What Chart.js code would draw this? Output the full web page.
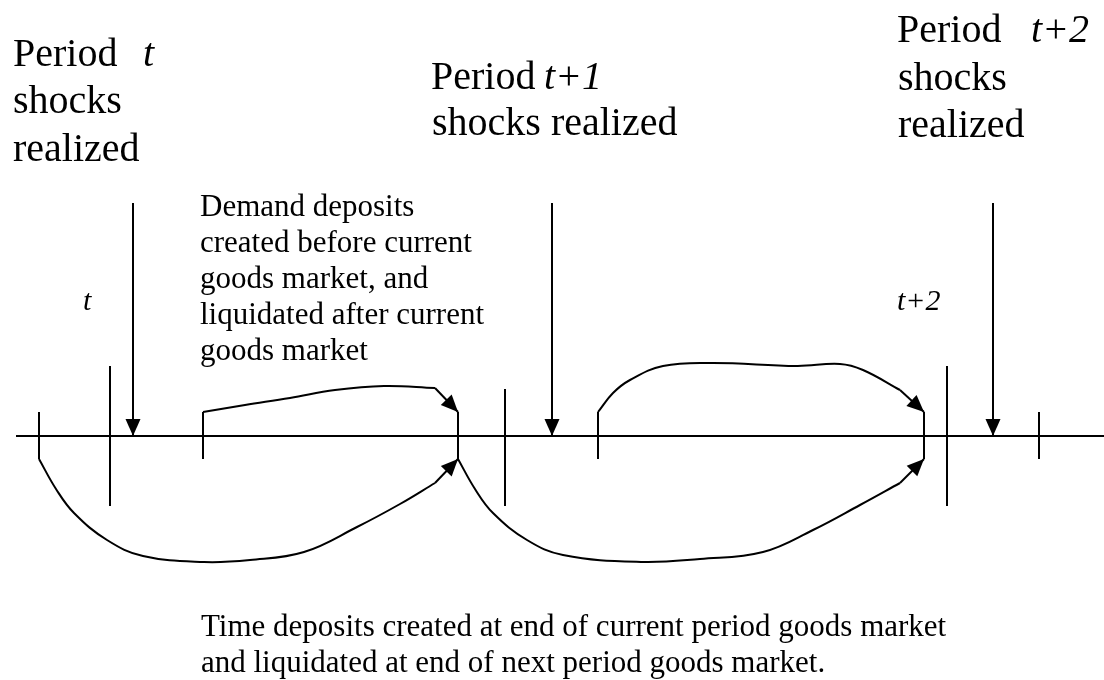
<!DOCTYPE html>
<html lang="en">
<head>
  <meta charset="UTF-8">
  <title>Timing of shocks and deposits</title>
  <script src="https://cdn.jsdelivr.net/npm/chart.js"></script>
  <style>body { margin: 0; background: #fff; }</style>
</head>
<body>
  <div style="width: 1104px; height: 680px;">
    <canvas id="timing"></canvas>
  </div>

  <script>
    // everything is in page units: x to the right, y downward (y axis reversed)
    const axisLine = [[16, 436], [1104, 436]];
    const shortTicks = [39, 203, 458, 598, 924, 1039];
    const tallTicks = [[110, 366], [505, 389], [947, 366]];
    const shockArrows = [133, 552, 993];

    // demand deposits: curve over the goods market, straight lead into the arrow tip
    const demandCurves = [
      [[203, 412], [245, 405], [290, 398], [335, 390], [384, 386], [435, 388]],
      [[598, 412], [613, 393], [630, 380], [663, 366], [713, 363], [797, 366], [840, 364], [863, 370], [900, 390]]
    ];
    const demandTips = [[458, 412], [924, 412]];

    // time deposits: curve under the axis
    const timeCurves = [
      [[39, 459], [56, 489], [74, 513], [107, 540], [143, 556], [204, 562], [250, 560], [304, 552], [357, 527], [400, 504], [435, 483]],
      [[458, 459], [475, 489], [493, 513], [527, 540], [563, 555], [641, 562], [700, 559], [763, 552], [813, 530], [860, 505], [900, 483]]
    ];
    const timeTips = [[458, 459], [924, 459]];

    const headT = ['Period  ', 't', 'shocks', 'realized'];
    const headT1 = ['Period ', 't+1', 'shocks realized'];
    const headT2 = ['Period  ', 't+2', 'shocks', 'realized'];
    const periodMarks = ['t', 't+2'];
    const demandNote = ['Demand deposits', 'created before current', 'goods market, and', 'liquidated after current', 'goods market'];
    const timeNote = ['Time deposits created at end of current period goods market', 'and liquidated at end of next period goods market.'];

    const serif = '"Liberation Serif", "Times New Roman", serif';
    const texts = [
      { t: headT[0], x: 13, y: 66, size: 40 },
      { t: headT[1], x: 143, y: 66, size: 40, italic: true },
      { t: headT[2], x: 13, y: 113, size: 40 },
      { t: headT[3], x: 13, y: 161, size: 40 },
      { t: headT1[0], x: 431, y: 89, size: 40 },
      { t: headT1[1], x: 544, y: 89, size: 40, italic: true },
      { t: headT1[2], x: 432, y: 135, size: 40 },
      { t: headT2[0], x: 897, y: 42, size: 40 },
      { t: headT2[1], x: 1031, y: 42, size: 40, italic: true },
      { t: headT2[2], x: 898, y: 90, size: 40 },
      { t: headT2[3], x: 898, y: 137, size: 40 },
      { t: periodMarks[0], x: 83, y: 310, size: 30, italic: true },
      { t: periodMarks[1], x: 897, y: 310, size: 30, italic: true }
    ];
    demandNote.forEach((s, i) => texts.push({ t: s, x: 200, y: 216 + i * 36, size: 31 }));
    timeNote.forEach((s, i) => texts.push({ t: s, x: 201, y: 636 + i * 36, size: 31 }));

    const pts = arr => arr.map(p => ({ x: p[0], y: p[1] }));
    const line = (arr, extra) => Object.assign({
      data: pts(arr),
      showLine: true,
      borderColor: '#000',
      borderWidth: 2,
      pointRadius: 0,
      tension: 0,
      fill: false
    }, extra || {});

    const datasets = [line(axisLine)];
    shortTicks.forEach(x => datasets.push(line([[x, 412], [x, 459]])));
    tallTicks.forEach(t => datasets.push(line([[t[0], t[1]], [t[0], 506]])));
    shockArrows.forEach(x => datasets.push(line([[x, 203], [x, 436]], { arrow: true })));
    demandCurves.forEach((c, i) => {
      datasets.push(line(c, { tension: 0.4 }));
      datasets.push(line([c[c.length - 1], demandTips[i]], { arrow: true }));
    });
    timeCurves.forEach((c, i) => {
      datasets.push(line(c, { tension: 0.4 }));
      datasets.push(line([c[c.length - 1], timeTips[i]], { arrow: true }));
    });

    const decorations = {
      id: 'decorations',
      afterDatasetsDraw(chart) {
        const { ctx, scales: { x, y } } = chart;
        ctx.save();
        ctx.fillStyle = '#000';
        // arrow heads at the end of flagged segments
        chart.data.datasets.forEach(ds => {
          if (!ds.arrow) return;
          const n = ds.data.length;
          const ax = x.getPixelForValue(ds.data[n - 2].x), ay = y.getPixelForValue(ds.data[n - 2].y);
          const bx = x.getPixelForValue(ds.data[n - 1].x), by = y.getPixelForValue(ds.data[n - 1].y);
          const ang = Math.atan2(by - ay, bx - ax);
          const len = 17, half = 7.5;
          ctx.beginPath();
          ctx.moveTo(bx, by);
          ctx.lineTo(bx - len * Math.cos(ang) + half * Math.sin(ang), by - len * Math.sin(ang) - half * Math.cos(ang));
          ctx.lineTo(bx - len * Math.cos(ang) - half * Math.sin(ang), by - len * Math.sin(ang) + half * Math.cos(ang));
          ctx.closePath();
          ctx.fill();
        });
        ctx.textBaseline = 'alphabetic';
        ctx.textAlign = 'left';
        texts.forEach(tx => {
          ctx.font = (tx.italic ? 'italic ' : '') + tx.size + 'px ' + serif;
          ctx.fillText(tx.t, x.getPixelForValue(tx.x), y.getPixelForValue(tx.y));
        });
        ctx.restore();
      }
    };

    new Chart(document.getElementById('timing'), {
      type: 'scatter',
      data: { datasets: datasets },
      options: {
        responsive: true,
        maintainAspectRatio: false,
        animation: false,
        layout: { padding: 0 },
        plugins: { legend: { display: false }, tooltip: { enabled: false } },
        scales: {
          x: { type: 'linear', min: 0, max: 1104, display: false },
          y: { type: 'linear', min: 0, max: 680, reverse: true, display: false }
        }
      },
      plugins: [decorations]
    });
  </script>
</body>
</html>
